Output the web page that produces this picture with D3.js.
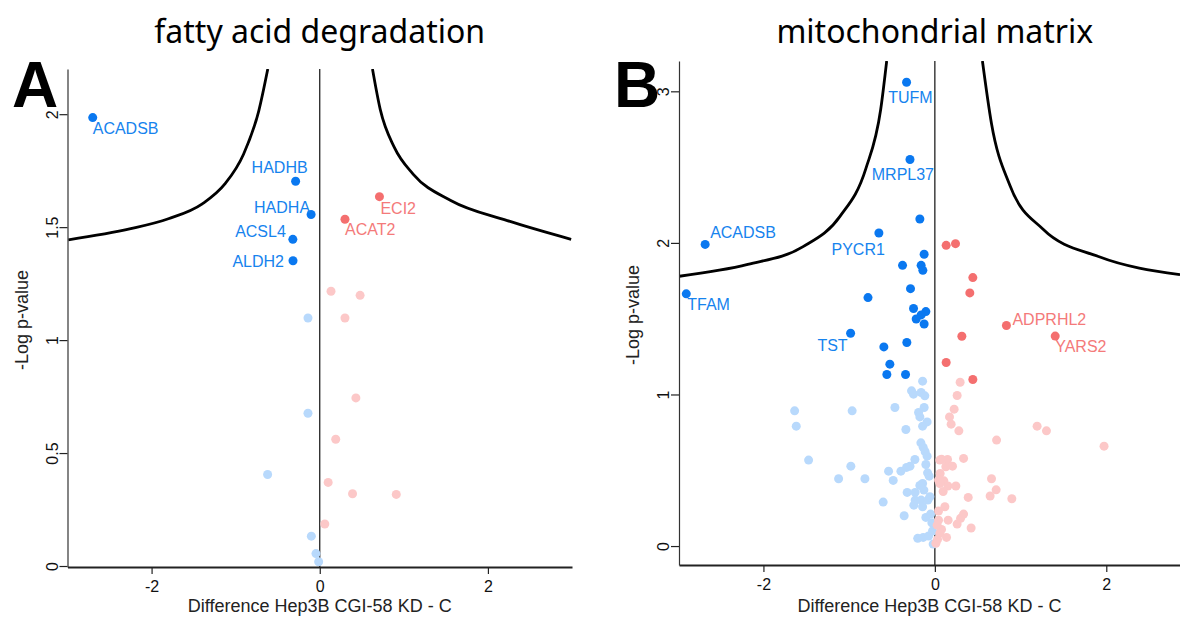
<!DOCTYPE html>
<html>
<head>
<meta charset="utf-8">
<script src="https://cdn.jsdelivr.net/npm/d3@7"></script>
<style>
  body { margin: 0; background: #fff; }
  svg { display: block; font-family: "Liberation Sans", Arial, sans-serif; }
</style>
</head>
<body>
<svg id="chart" width="1180" height="617"></svg>
<script>
// ---------- data ----------
const xTicks = [-2, 0, 2];
const fadYTicks = [0, 0.5, 1, 1.5, 2];
const mitoYTicks = [0, 1, 2, 3];

// [gene, difference, -log p]  ("" = unlabelled)
const fadDown = [
  ["ACADSB", -2.70, 1.985], ["HADHB", -0.287, 1.703], ["HADHA", -0.103, 1.556],
  ["ACSL4", -0.32, 1.446], ["ALDH2", -0.318, 1.351]
];
const fadUp = [["ECI2", 0.71, 1.635], ["ACAT2", 0.30, 1.535]];
const fadDownNs = [
  ["", -0.14, 1.098], ["", -0.14, 0.676], ["", -0.62, 0.405],
  ["", -0.10, 0.132], ["", -0.045, 0.055], ["", -0.013, 0.019]
];
const fadUpNs = [
  ["", 0.134, 1.216], ["", 0.48, 1.198], ["", 0.30, 1.098], ["", 0.43, 0.744],
  ["", 0.19, 0.561], ["", 0.10, 0.37], ["", 0.39, 0.32], ["", 0.91, 0.317], ["", 0.06, 0.186]
];
// significance threshold curve
const fadCurveLeft = [
  [-2.99, 1.444], [-2.248, 1.493], [-1.80, 1.537], [-1.397, 1.603], [-1.128, 1.691],
  [-0.905, 1.824], [-0.725, 2.015], [-0.618, 2.2]
];
const fadCurveRight = [
  [0.627, 2.2], [0.72, 2.02], [0.887, 1.853], [1.11, 1.735], [1.558, 1.618],
  [2.23, 1.529], [2.99, 1.446]
];

const mitoDown = [
  ["TUFM", -0.33, 3.06], ["MRPL37", -0.29, 2.55], ["", -0.175, 2.158], ["PYCR1", -0.653, 2.065],
  ["ACADSB", -2.68, 1.99], ["", -0.125, 1.925], ["", -0.377, 1.852], ["", -0.16, 1.852],
  ["", -0.14, 1.819], ["", -0.284, 1.698], ["TFAM", -2.90, 1.664], ["", -0.78, 1.639],
  ["", -0.249, 1.567], ["", -0.105, 1.547], ["", -0.16, 1.525], ["", -0.218, 1.498],
  ["", -0.125, 1.465], ["TST", -0.983, 1.404], ["", -0.327, 1.343], ["", -0.595, 1.314],
  ["", -0.525, 1.20], ["", -0.56, 1.132], ["", -0.342, 1.132]
];
const mitoUp = [
  ["", 0.132, 1.984], ["", 0.241, 1.995], ["", 0.443, 1.771], ["", 0.408, 1.67],
  ["ADPRHL2", 0.835, 1.455], ["", 0.315, 1.384], ["YARS2", 1.404, 1.385],
  ["", 0.132, 1.211], ["", 0.443, 1.099]
];
const mitoDownNs = [
  ["", -0.143, 1.088], ["", -0.272, 1.024], ["", -0.249, 1.002], ["", -0.16, 1.013],
  ["", -0.117, 0.991], ["", -0.965, 0.892], ["", -0.466, 0.914], ["", -0.125, 0.914],
  ["", -0.19, 0.881], ["", -0.175, 0.852], ["", -0.09, 0.819], ["", -0.143, 0.791],
  ["", -0.338, 0.769], ["", -0.163, 0.681], ["", -0.136, 0.651], ["", -0.113, 0.622],
  ["", -0.09, 0.593], ["", -0.233, 0.571], ["", -1.636, 0.892], ["", -1.617, 0.791],
  ["", -1.473, 0.567], ["", -0.98, 0.527], ["", -1.123, 0.444], ["", -0.29, 0.527],
  ["", -0.33, 0.519], ["", -0.105, 0.538], ["", -0.54, 0.494], ["", -0.396, 0.494],
  ["", -0.816, 0.444], ["", -0.486, 0.433], ["", -0.085, 0.483], ["", -0.066, 0.461],
  ["", -0.143, 0.413], ["", -0.175, 0.40], ["", -0.128, 0.369], ["", -0.323, 0.354],
  ["", -0.23, 0.354], ["", -0.603, 0.29], ["", -0.23, 0.303], ["", -0.16, 0.303],
  ["", -0.082, 0.303], ["", -0.245, 0.27], ["", -0.143, 0.259], ["", -0.058, 0.325],
  ["", -0.358, 0.2], ["", -0.105, 0.189], ["", -0.05, 0.211], ["", -0.035, 0.154],
  ["", -0.027, 0.099], ["", -0.2, 0.051], ["", -0.136, 0.057], ["", -0.073, 0.066],
  ["", -0.02, 0.013]
];
const mitoUpNs = [
  ["", 0.295, 1.081], ["", 0.26, 0.993], ["", 0.225, 0.903], ["", 0.171, 0.852],
  ["", 0.19, 0.804], ["", 0.28, 0.76], ["", 0.72, 0.699], ["", 1.193, 0.791],
  ["", 1.302, 0.76], ["", 1.974, 0.659], ["", 0.078, 0.573], ["", 0.148, 0.571],
  ["", 0.335, 0.578], ["", 0.058, 0.567], ["", 0.128, 0.523], ["", 0.206, 0.527],
  ["", 0.062, 0.479], ["", 0.043, 0.435], ["", 0.105, 0.43], ["", 0.058, 0.413],
  ["", 0.152, 0.396], ["", 0.245, 0.396], ["", 0.097, 0.36], ["", 0.661, 0.444],
  ["", 0.715, 0.371], ["", 0.645, 0.33], ["", 0.898, 0.312], ["", 0.389, 0.321],
  ["", 0.117, 0.259], ["", 0.043, 0.231], ["", 0.335, 0.211], ["", 0.3, 0.183],
  ["", 0.155, 0.171], ["", 0.26, 0.145], ["", 0.043, 0.171], ["", 0.027, 0.138],
  ["", 0.423, 0.119], ["", 0.078, 0.11], ["", 0.058, 0.084], ["", 0.136, 0.057],
  ["", 0.031, 0.044], ["", 0.012, 0.018]
];
const mitoCurveLeft = [
  [-2.98, 1.78], [-2.183, 1.858], [-1.537, 1.975], [-1.107, 2.175], [-0.805, 2.49],
  [-0.632, 2.88], [-0.562, 3.2]
];
const mitoCurveRight = [
  [0.555, 3.2], [0.66, 2.79], [0.875, 2.38], [1.263, 2.09], [1.909, 1.91], [2.86, 1.79]
];

// ---------- styles ----------
const colors = {
  down: "#0a78f0", up: "#f46f6f", downNs: "#b8d9fc", upNs: "#fcc8c8",
  downText: "#1683ee", upText: "#f47a7a"
};

// label offsets relative to the dot: [dx, dy, anchor]
const labelOffsets = {
  ACADSB_A: [0, 16, "start"], HADHB: [12, -8, "end"], HADHA: [-1, -1, "end"],
  ACSL4: [-7, -2, "end"], ALDH2: [-9, 6, "end"], ECI2: [1, 17, "start"], ACAT2: [0, 16, "start"],
  TUFM: [26, 21, "end"], MRPL37: [24, 20, "end"], PYCR1: [6, 22, "end"],
  ACADSB_B: [5, -6, "start"], TFAM: [1, 16, "start"], TST: [-3, 18, "end"],
  ADPRHL2: [6, -1, "start"], YARS2: [0, 16, "start"]
};

const panels = [
  {
    id: "A", title: "fatty acid degradation",
    left: 67.5, right: 572, top: 69, bottom: 567,
    xDomain: [-3, 3], yDomain: [-0.0044, 2.2], yTicks: fadYTicks,
    down: fadDown, up: fadUp, downNs: fadDownNs, upNs: fadUpNs,
    curves: [fadCurveLeft, fadCurveRight], letterX: 12
  },
  {
    id: "B", title: "mitochondrial matrix",
    left: 679, right: 1180, top: 61, bottom: 565,
    xDomain: [-2.985, 2.86], yDomain: [-0.125, 3.2], yTicks: mitoYTicks,
    down: mitoDown, up: mitoUp, downNs: mitoDownNs, upNs: mitoUpNs,
    curves: [mitoCurveLeft, mitoCurveRight], letterX: 614
  }
];

const svg = d3.select("#chart");

panels.forEach((p) => {
  const x = d3.scaleLinear().domain(p.xDomain).range([p.left, p.right]);
  const y = d3.scaleLinear().domain(p.yDomain).range([p.bottom, p.top]);
  const g = svg.append("g").attr("class", "panel-" + p.id);

  // clip for the threshold curves
  g.append("clipPath").attr("id", "clip-" + p.id)
    .append("rect")
    .attr("x", p.left).attr("y", p.top)
    .attr("width", p.right - p.left).attr("height", p.bottom - p.top);

  // zero line
  g.append("line")
    .attr("x1", x(0)).attr("x2", x(0))
    .attr("y1", p.top).attr("y2", p.bottom)
    .attr("stroke", "#111").attr("stroke-width", 1.2);

  // threshold curves
  const line = d3.line()
    .x((d) => x(d[0]))
    .y((d) => y(d[1]))
    .curve(d3.curveMonotoneX);
  g.selectAll(".curve")
    .data(p.curves)
    .join("path")
    .attr("class", "curve")
    .attr("clip-path", `url(#clip-${p.id})`)
    .attr("d", line)
    .attr("fill", "none")
    .attr("stroke", "#000")
    .attr("stroke-width", 2.8);

  // dots: non-significant first, then significant
  const groups = [
    [p.downNs, colors.downNs], [p.upNs, colors.upNs],
    [p.down, colors.down], [p.up, colors.up]
  ];
  groups.forEach(([data, col]) => {
    g.append("g").selectAll("circle")
      .data(data)
      .join("circle")
      .attr("cx", (d) => x(d[1]))
      .attr("cy", (d) => y(d[2]))
      .attr("r", 4.5)
      .attr("fill", col);
  });

  // gene labels
  const labelled = p.down.map((d) => [d, colors.downText])
    .concat(p.up.map((d) => [d, colors.upText]))
    .filter(([d]) => d[0] !== "");
  labelled.forEach(([d, col]) => {
    const off = labelOffsets[d[0]] || labelOffsets[d[0] + "_" + p.id];
    g.append("text")
      .attr("x", x(d[1]) + off[0])
      .attr("y", y(d[2]) + off[1])
      .attr("text-anchor", off[2])
      .attr("fill", col)
      .style("font-size", "16px")
      .text(d[0]);
  });

  // x axis
  const xAxis = g.append("g")
    .attr("transform", `translate(0,${p.bottom})`)
    .call(d3.axisBottom(x).tickValues(xTicks).tickSize(7).tickPadding(7).tickSizeOuter(0)
      .tickFormat((d) => String(d)));
  xAxis.select(".domain").attr("stroke", "#222").attr("stroke-width", 2);
  xAxis.selectAll(".tick line").attr("stroke", "#222").attr("stroke-width", 1.2);
  xAxis.selectAll(".tick text").style("font-size", "16px").attr("fill", "#111")
    .attr("font-family", "Liberation Sans, Arial, sans-serif");

  // y axis with rotated tick labels
  const yAxis = g.append("g")
    .attr("transform", `translate(${p.left},0)`)
    .call(d3.axisLeft(y).tickValues(p.yTicks).tickSize(8).tickSizeOuter(0)
      .tickFormat((d) => String(d)));
  yAxis.select(".domain").attr("stroke", "#333").attr("stroke-width", 1.2);
  yAxis.selectAll(".tick line").attr("stroke", "#222").attr("stroke-width", 1.2);
  yAxis.selectAll(".tick text")
    .attr("transform", "rotate(-90)")
    .attr("x", 0).attr("y", -10).attr("dy", 0)
    .attr("text-anchor", "middle")
    .attr("fill", "#111")
    .attr("font-family", "Liberation Sans, Arial, sans-serif")
    .style("font-size", "16px");

  // axis titles
  g.append("text")
    .attr("x", (p.left + p.right) / 2)
    .attr("y", 612)
    .attr("text-anchor", "middle")
    .attr("fill", "#222")
    .style("font-size", "18px")
    .text("Difference Hep3B CGI-58 KD - C");

  g.append("text")
    .attr("transform", `translate(${p.left - 40},${(p.top + p.bottom) / 2 + 2}) rotate(-90)`)
    .attr("text-anchor", "middle")
    .attr("fill", "#222")
    .style("font-size", "18px")
    .text("-Log p-value");

  // panel title
  g.append("text")
    .attr("x", x(0))
    .attr("y", 43)
    .attr("text-anchor", "middle")
    .attr("fill", "#000")
    .style("font-family", "'Noto Sans', 'Open Sans', sans-serif")
    .style("font-size", "32px")
    .text(p.title);

  // panel letter
  g.append("text")
    .attr("x", p.letterX)
    .attr("y", 107)
    .attr("fill", "#000")
    .style("font-size", "64px")
    .style("font-weight", "bold")
    .text(p.id);
});
</script>
</body>
</html>
